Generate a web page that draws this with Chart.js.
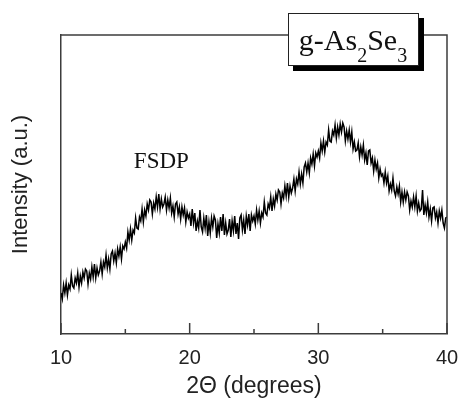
<!DOCTYPE html>
<html><head><meta charset="utf-8">
<script src="https://cdn.jsdelivr.net/npm/chart.js@4.4.1/dist/chart.umd.min.js"></script>
<style>html,body{margin:0;padding:0;background:#fff;}</style>
</head><body>
<canvas id="c" width="462" height="403"></canvas>
<script>
// 2θ sampling grid (degrees)
const twoThetaStart = 10;
const twoThetaStep = 0.1;

// Intensity (a.u.), in 5-degree segments
const intensity10to15 = [
  41,35,49,41,51,39,49,45,59,48,
  46,56,51,61,47,58,51,62,56,65,
  63,50,61,55,67,57,70,56,66,59,
  63,72,60,72,67,79,66,75,65,80,
  83,73,81,71,85,78,87,75,88,85];
const intensity15to20 = [
  92,86,102,94,105,94,104,101,116,106,
  105,117,113,125,112,124,118,130,124,134,
  132,120,131,125,137,127,140,125,135,127,
  130,137,124,134,126,136,121,128,117,130,
  132,120,127,115,127,119,126,112,122,116];
const intensity20to25 = [
  120,108,125,111,121,103,113,106,124,107,
  102,116,106,119,98,112,101,116,107,118,
  114,96,110,101,117,103,120,99,111,100,
  104,115,97,113,103,118,100,111,95,116,
  119,104,114,100,118,109,120,103,119,113];
const intensity25to30 = [
  118,110,124,114,123,111,121,117,132,121,
  119,130,126,137,123,135,128,140,134,144,
  142,130,141,136,148,138,151,137,148,141,
  146,155,143,155,150,162,150,160,151,167,
  171,162,171,161,176,170,180,168,181,177];
const intensity30to35 = [
  183,176,191,183,193,182,192,189,204,193,
  192,203,199,209,196,207,199,210,202,211,
  207,193,203,195,204,192,202,185,192,183,
  184,191,177,187,179,189,174,181,169,183,
  184,171,176,163,174,165,171,156,165,158];
const intensity35to40 = [
  160,151,162,151,158,143,150,144,156,143,
  138,147,140,148,132,142,132,142,134,142,
  138,124,133,127,137,127,138,123,131,123,
  125,144,119,129,121,132,117,125,113,126,
  127,116,122,111,123,116,124,111,106,116,
  117];

const majorTicks = [10, 20, 30, 40];
const minorTicks = [15, 25, 35];
const xRange = [10, 40];
const yRange = [0, 299];
const peakLabel = 'FSDP';
const peakLabelAt = [17.8, 172];
const sampleParts = [['g-As', false], ['2', true], ['Se', false], ['3', true]];

const intensity = [].concat(intensity10to15, intensity15to20, intensity20to25,
  intensity25to30, intensity30to35, intensity35to40);
const points = intensity.map((v, i) => ({ x: +(twoThetaStart + i * twoThetaStep).toFixed(1), y: v }));

const axisColor = '#3c3c3c';

const decor = {
  id: 'decor',
  afterDraw(chart) {
    const ctx = chart.ctx, a = chart.chartArea;
    const xs = chart.scales.x, ys = chart.scales.y;
    ctx.save();
    ctx.strokeStyle = axisColor; ctx.lineWidth = 1.5;
    ctx.beginPath();
    ctx.moveTo(a.left, a.top); ctx.lineTo(a.right, a.top); ctx.lineTo(a.right, a.bottom);
    ctx.stroke();
    ctx.beginPath();
    majorTicks.forEach(v => { const px = xs.getPixelForValue(v); ctx.moveTo(px, a.bottom); ctx.lineTo(px, a.bottom - 11); });
    minorTicks.forEach(v => { const px = xs.getPixelForValue(v); ctx.moveTo(px, a.bottom); ctx.lineTo(px, a.bottom - 5); });
    ctx.stroke();
    ctx.fillStyle = '#111';
    ctx.font = '23px "Liberation Serif", "Times New Roman", serif';
    ctx.textAlign = 'center'; ctx.textBaseline = 'middle';
    ctx.fillText(peakLabel, xs.getPixelForValue(peakLabelAt[0]), ys.getPixelForValue(peakLabelAt[1]));
    const bx = 288, by = 13, bw = 130, bh = 52;
    ctx.fillStyle = '#000';
    ctx.fillRect(bx + 5, by + 5, bw + 1, bh + 1);
    ctx.fillStyle = '#fff';
    ctx.fillRect(bx, by, bw, bh);
    ctx.strokeStyle = '#222'; ctx.lineWidth = 1;
    ctx.strokeRect(bx + 0.5, by + 0.5, bw, bh);
    const bigF = '30px "Liberation Serif", "Times New Roman", serif';
    const smallF = '20px "Liberation Serif", "Times New Roman", serif';
    let total = 0;
    sampleParts.forEach(([t, sub]) => { ctx.font = sub ? smallF : bigF; total += ctx.measureText(t).width; });
    let x = bx + bw / 2 - total / 2;
    ctx.textAlign = 'left'; ctx.textBaseline = 'alphabetic'; ctx.fillStyle = '#111';
    sampleParts.forEach(([t, sub]) => {
      ctx.font = sub ? smallF : bigF;
      ctx.fillText(t, x, sub ? 62 : 50);
      x += ctx.measureText(t).width;
    });
    ctx.restore();
  }
};

new Chart(document.getElementById('c'), {
  type: 'line',
  data: { datasets: [{ data: points, borderColor: '#000', borderWidth: 1.5, pointRadius: 0, tension: 0, fill: false }] },
  options: {
    responsive: false, animation: false, devicePixelRatio: 1,
    layout: { padding: { left: 0, top: 35, right: 15, bottom: 0 } },
    plugins: { legend: { display: false }, tooltip: { enabled: false } },
    scales: {
      x: {
        type: 'linear', min: xRange[0], max: xRange[1],
        grid: { display: false },
        border: { display: true, color: axisColor, width: 1.5 },
        ticks: {
          stepSize: 10, autoSkip: false, maxRotation: 0, padding: 4, color: '#222',
          font: { family: '"Liberation Sans", Arial, sans-serif', size: 20 },
          callback: v => majorTicks.includes(Math.round(v)) ? String(Math.round(v)) : ''
        },
        title: { display: true, text: '2Θ (degrees)', color: '#222',
          font: { family: '"Liberation Sans", Arial, sans-serif', size: 23 }, padding: { top: 0, bottom: 3 } },
        afterFit: s => { s.height = 69; s.paddingRight = 0; s.paddingLeft = 0; }
      },
      y: {
        min: yRange[0], max: yRange[1],
        grid: { display: false },
        border: { display: true, color: axisColor, width: 1.5 },
        ticks: { display: false },
        title: { display: true, text: 'Intensity (a.u.)', color: '#222',
          font: { family: '"Liberation Sans", Arial, sans-serif', size: 22 }, padding: { top: 8, bottom: 0 } },
        afterFit: s => { s.width = 61; }
      }
    }
  },
  plugins: [decor]
});
</script>
</body></html>
